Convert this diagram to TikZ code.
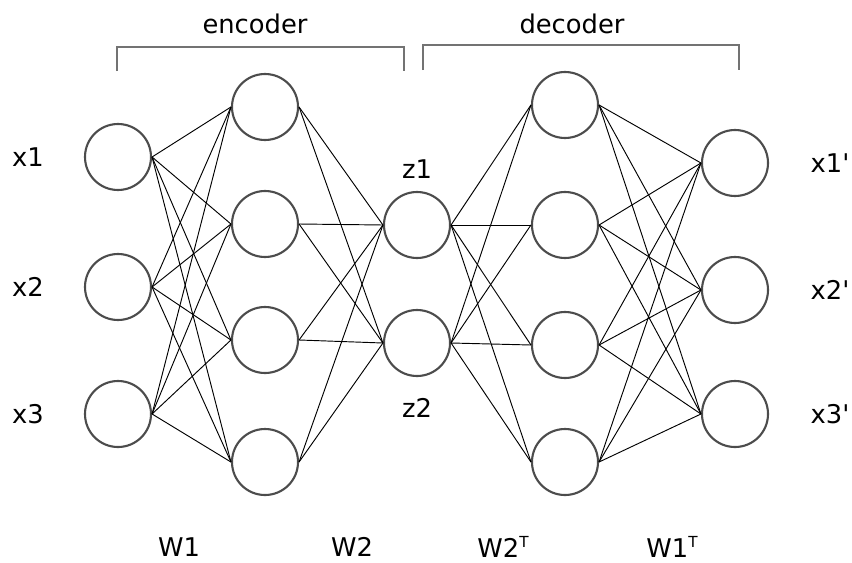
\documentclass[tikz,border=0pt]{standalone}
\usepackage{fontspec}
\setmainfont{DejaVu Sans}
\newcommand{\trsp}{\raisebox{8pt}{\fontsize{13}{13}\selectfont T}}

\begin{document}
\begin{tikzpicture}[x=0.03cm, y=-0.03cm,
    every node/.style={font=\fontsize{22}{26}\selectfont},
    neuron/.style={circle, minimum size=1.98cm, inner sep=0pt, draw=black!70, line width=1.8pt},
    bracket/.style={draw=black!55, line width=1.6pt}]
    \useasboundingbox (0,0) rectangle (852,562);
    % Input Layer
    \foreach \name/\i/\y in {x1/1/157,x2/2/287,x3/3/414} {
        \node[neuron] (Input-\i) at (118,\y) {};
        \node[left of=Input-\i, node distance=2.7cm] {\name};
    }
    % Hidden Layer (encoder)
    \foreach \i/\y in {1/107,2/224,3/340,4/462} {
        \node[neuron] (Hidden1-\i) at (265,\y) {};
    }
    % Code Layer
    \foreach \name/\i/\y in {z1/1/225,z2/2/343} {
        \node[neuron] (Code-\i) at (417,\y) {};
        \ifnum \i=1
            \node[above of=Code-\i, node distance=1.68cm] {\name};
        \else
            \node[below of=Code-\i, node distance=1.95cm] {\name};
        \fi
    }
    % Hidden Layer (decoder)
    \foreach \i/\y in {1/105,2/225,3/345,4/462} {
        \node[neuron] (Hidden2-\i) at (565,\y) {};
    }
    % Output Layer
    \foreach \name/\i/\y in {x1\textquotesingle/1/163,x2\textquotesingle/2/290,x3\textquotesingle/3/414} {
        \node[neuron] (Output-\i) at (735,\y) {};
        \node[right of=Output-\i, node distance=2.85cm] {\name};
    }
    % Connections
    \foreach \i in {1,2,3} {
        \foreach \j in {1,2,3,4} {
           \draw[line width=0.8pt] (Input-\i.east) -- (Hidden1-\j.west);
           \draw[line width=0.8pt] (Hidden2-\j.east) -- (Output-\i.west);
        }
    }
    \foreach \i in {1,2,3,4} {
        \foreach \j in {1,2} {
           \draw[line width=0.8pt] (Hidden1-\i.east) -- (Code-\j.west);
           \draw[line width=0.8pt] (Code-\j.east) -- (Hidden2-\i.west);
        }
    }
    % Brackets
    \draw[bracket] (117,71) |- (404,47) -- (404,71);
    \draw[bracket] (423,70) |- (739,45) -- (739,70);
    \node (Enc) at (255,24) {encoder};
    \node (Dec) at (572,24) {decoder};
    % Weights
    \node (W1) at (179,547) {W1};
    \node (W2) at (352,547) {W2};
    \node (W2T) at (503,547) {W2\trsp};
    \node (W1T) at (672,547) {W1\trsp};
\end{tikzpicture}
\end{document}
